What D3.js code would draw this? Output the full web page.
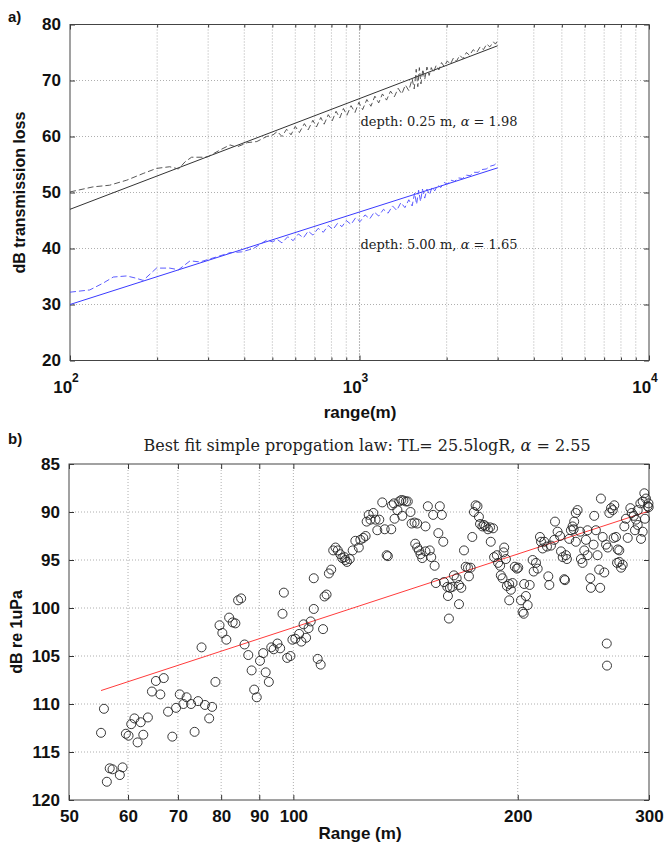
<!DOCTYPE html>
<html>
<head>
<meta charset="utf-8">
<script src="https://cdn.jsdelivr.net/npm/d3@7"></script>
<style>
  body { margin: 0; background: #fff; }
  svg { display: block; }
</style>
</head>
<body>
<svg id="chart" width="665" height="845"></svg>
<script>
// ---- panel a: transmission loss vs range ----
const rangeMajorA = [100, 1000, 10000];
const rangeMinorA = [200, 300, 400, 500, 600, 700, 800, 900, 2000, 3000, 4000, 5000, 6000, 7000, 8000, 9000];
const tlTicks = [20, 30, 40, 50, 60, 70, 80];

// straight fits (end points)
const fitShallow = [[100, 47.0], [3000, 76.2]];
const fitDeep = [[100, 30.0], [3000, 54.4]];

// measured (dashed)
const measShallow = [
  [100, 50.1], [120, 51.0], [137, 51.3], [157, 52.2], [179, 53.4], [199, 54.3], [221, 54.6], [237, 54.2],
  [250, 55.5], [263, 56.3], [289, 56.3], [300, 56.4], [330, 57.6], [357, 58.5], [376, 58.1], [410, 58.9],
  [442, 59.1], [478, 60.0], [503, 60.3], [520, 60.9], [540, 60.0], [560, 61.3], [580, 60.3], [600, 61.8],
  [620, 60.7], [645, 62.3], [665, 61.2], [690, 62.9], [710, 61.7], [735, 63.4], [755, 62.2], [780, 63.9],
  [805, 62.8], [830, 64.5], [855, 63.3], [880, 65.0], [905, 63.8], [935, 65.5], [965, 64.3], [995, 66.1],
  [1025, 64.8], [1060, 66.6], [1095, 65.4], [1130, 67.2], [1165, 66.0], [1200, 67.6], [1240, 66.5],
  [1280, 68.1], [1320, 67.1], [1360, 68.6], [1400, 67.6], [1440, 69.2], [1480, 68.2], [1520, 70.3],
  [1545, 68.5], [1570, 72.0], [1590, 68.9], [1610, 72.3], [1630, 69.4], [1655, 72.0], [1680, 70.2],
  [1710, 72.4], [1740, 70.9], [1770, 72.3], [1800, 71.4], [1840, 72.7], [1880, 71.9], [1920, 73.2],
  [1960, 72.5], [2010, 73.5], [2060, 72.9], [2110, 74.0], [2160, 73.4], [2220, 74.5], [2280, 73.9],
  [2340, 75.0], [2400, 74.5], [2470, 75.5], [2540, 75.0], [2610, 76.0], [2680, 75.5], [2750, 76.5],
  [2820, 76.0], [2900, 76.9], [2950, 76.5], [3000, 77.2]
];
const measDeep = [
  [100, 32.2], [117, 32.6], [130, 33.8], [141, 34.9], [157, 35.1], [169, 34.7], [179, 34.3], [199, 36.5],
  [221, 36.5], [237, 36.2], [260, 37.8], [281, 37.6], [321, 38.5], [357, 39.25], [392, 39.4], [430, 40.0],
  [478, 41.5], [500, 41.2], [520, 41.6], [540, 41.0], [565, 42.1], [590, 41.4], [615, 42.6], [640, 41.9],
  [665, 43.1], [690, 42.4], [720, 43.6], [750, 42.9], [780, 44.1], [810, 43.4], [840, 44.5], [870, 43.9],
  [900, 45.0], [935, 44.3], [970, 45.5], [1005, 44.8], [1045, 46.0], [1085, 45.3], [1125, 46.5],
  [1165, 45.8], [1210, 47.0], [1255, 46.3], [1300, 47.6], [1345, 46.8], [1390, 48.2], [1435, 47.3],
  [1480, 48.7], [1520, 47.6], [1550, 49.9], [1575, 47.9], [1600, 50.4], [1625, 48.4], [1650, 50.6],
  [1680, 49.0], [1710, 50.6], [1745, 49.6], [1780, 50.9], [1820, 50.3], [1860, 51.3], [1910, 50.9],
  [1960, 51.8], [2010, 51.5], [2070, 52.2], [2130, 52.0], [2200, 52.6], [2270, 52.5], [2340, 53.1],
  [2410, 53.0], [2490, 53.6], [2570, 53.6], [2650, 54.1], [2740, 54.2], [2830, 54.7], [2920, 54.9],
  [3000, 55.4]
];

// ---- panel b: received level vs range ----
const rangeTicksB = [50, 60, 70, 80, 90, 100, 200, 300];
const levelTicks = [85, 90, 95, 100, 105, 110, 115, 120];
const fitLaw = [[55.2, 108.6], [300, 89.9]];

// observations [range m, dB re 1uPa]
const obs = [
  [55.2, 113.0], [55.7, 110.5], [56.2, 118.1], [56.7, 116.7], [57.2, 116.8], [58.5, 117.4], [59.0, 116.6],
  [59.6, 113.1], [60.1, 113.3], [60.6, 112.1], [61.2, 111.5], [61.8, 114.0], [62.4, 111.9], [62.9, 113.2],
  [63.8, 111.4], [64.6, 108.7], [65.4, 107.6], [66.3, 109.0], [67.0, 107.3], [67.9, 110.8], [68.8, 113.4],
  [69.6, 110.4], [70.4, 109.0], [71.2, 110.0], [71.9, 109.3], [72.9, 110.0], [73.7, 112.9], [74.5, 109.7],
  [75.3, 104.1], [76.1, 110.1], [77.1, 111.5], [77.8, 110.3], [78.6, 107.7],
  [79.6, 101.8], [80.3, 102.6], [81.3, 103.3], [82.0, 101.0], [82.9, 101.5], [83.6, 101.6], [84.3, 99.2],
  [85.1, 99.0], [86.0, 103.8], [87.0, 104.9], [87.9, 106.5], [88.6, 108.5], [89.3, 109.3], [90.2, 105.5],
  [91.1, 104.7], [91.8, 106.7], [92.7, 107.7], [93.4, 104.1], [94.1, 104.3], [95.2, 103.7], [96.0, 104.2],
  [96.7, 100.6], [97.1, 98.4], [98.1, 105.2], [99.1, 105.0], [99.7, 103.3], [100.6, 103.2], [101.8, 102.7],
  [102.5, 103.5], [103.2, 101.7], [104.0, 103.1], [104.8, 102.1], [105.5, 101.4], [106.5, 100.1],
  [106.5, 96.9], [107.8, 105.3], [108.8, 105.9], [109.6, 102.2], [110.1, 98.8], [110.8, 98.6], [111.6, 96.4],
  [112.4, 96.0], [113.1, 94.0], [113.9, 93.7], [114.7, 94.0], [115.6, 94.4], [116.3, 94.8], [117.1, 94.7],
  [117.4, 95.0], [118.0, 95.2], [119.0, 94.9], [120.1, 94.0], [121.1, 93.0], [122.4, 93.7], [123.0, 92.9],
  [124.1, 92.7], [125.0, 92.5], [125.4, 91.0], [126.2, 90.3], [126.9, 90.8], [128.0, 90.1], [128.9, 90.8],
  [129.6, 91.9], [130.4, 90.8], [131.6, 89.0], [132.6, 91.8], [133.4, 94.5], [133.9, 94.6], [135.3, 91.8],
  [135.6, 89.3], [136.4, 89.1], [136.7, 90.7], [137.9, 89.8], [138.7, 88.9], [139.6, 88.75], [140.0, 90.4],
  [140.5, 88.8], [141.6, 88.9], [142.4, 88.9], [143.6, 90.0], [144.1, 91.2], [145.4, 91.1], [146.6, 91.2],
  [150.4, 91.5], [151.5, 89.4], [154.0, 90.3], [157.2, 89.4], [158.2, 90.3], [156.5, 92.2], [158.9, 93.1],
  [145.7, 93.3], [146.6, 93.7], [147.4, 94.0], [148.1, 94.4], [148.9, 94.8], [150.4, 94.1], [152.4, 94.0],
  [153.1, 94.7], [154.7, 95.6], [155.3, 97.4], [159.2, 97.3], [160.9, 97.8], [161.2, 98.75], [161.7, 101.1],
  [162.2, 97.9], [163.4, 97.8], [164.2, 96.6], [165.6, 96.9], [166.8, 97.6], [168.0, 97.9], [166.8, 99.6],
  [169.4, 94.0], [170.3, 95.7], [171.5, 95.8], [172.9, 95.8], [172.0, 96.7], [173.8, 92.6], [174.7, 90.0],
  [175.6, 89.3], [176.6, 89.4], [177.4, 90.5], [178.0, 91.25], [179.3, 91.5], [180.2, 91.35], [181.1, 91.5],
  [182.4, 91.8], [183.6, 91.6], [185.3, 91.7], [184.0, 93.1], [185.9, 94.7], [187.5, 94.5], [188.2, 95.3],
  [189.4, 95.6], [189.8, 96.6], [190.8, 96.9], [191.8, 93.7], [192.8, 94.9], [191.4, 94.2], [193.4, 97.7],
  [194.8, 97.5], [195.8, 98.1], [196.8, 97.4], [194.8, 99.2], [198.2, 95.7], [199.5, 95.9], [200.3, 95.8],
  [202.0, 99.2], [203.0, 100.4], [203.7, 100.6], [205.1, 98.75], [206.2, 99.7], [204.0, 97.5], [207.5, 97.6],
  [210.1, 96.2], [209.4, 95.0], [211.6, 95.3], [212.7, 95.9], [214.2, 92.6], [214.9, 93.1], [217.1, 93.1],
  [216.0, 93.8], [218.9, 93.6], [219.8, 96.7], [220.5, 97.6], [221.6, 93.5], [223.9, 92.9], [224.4, 91.0],
  [226.2, 92.05], [227.9, 92.5], [228.6, 94.1], [229.8, 94.7], [230.9, 97.0], [231.4, 97.1], [232.1, 94.5],
  [232.8, 94.9], [234.5, 92.8], [235.7, 91.9], [236.9, 91.5], [237.7, 91.8], [238.1, 91.0], [239.3, 90.1],
  [240.6, 89.8], [239.3, 93.1], [242.5, 92.05], [243.1, 94.9], [244.3, 95.3], [245.6, 94.0], [246.9, 92.9],
  [248.1, 91.9], [248.1, 94.5], [250.2, 96.9], [250.7, 97.9], [252.8, 93.4], [253.3, 90.4], [254.6, 91.9],
  [255.9, 94.5], [257.2, 96.0], [258.0, 97.9], [258.6, 88.6], [260.0, 92.6], [261.3, 96.3], [262.7, 93.4],
  [264.1, 93.7], [265.4, 90.1], [266.8, 89.6], [268.2, 89.8], [269.5, 89.3], [269.0, 92.7], [270.9, 92.6],
  [272.4, 93.9], [273.7, 94.0], [271.8, 95.3], [273.7, 95.2], [275.2, 95.8], [276.6, 95.5], [278.0, 91.5],
  [279.4, 90.7], [280.9, 92.7], [283.2, 89.6], [284.4, 90.1], [286.2, 90.4], [288.2, 90.8], [289.7, 89.8],
  [292.1, 89.1], [294.2, 88.9], [295.7, 88.05], [297.2, 88.6], [298.8, 89.4], [299.5, 89.1], [299.7, 89.5],
  [287.3, 91.9], [289.7, 91.35], [292.7, 92.8], [294.2, 92.05], [296.3, 90.7], [263.3, 103.7], [263.5, 106.0]
];

const svg = d3.select('#chart');
const SANS = '"Liberation Sans", Arial, sans-serif';
const SERIF = '"DejaVu Serif", "Liberation Serif", serif';
const GRID = '#9a9a9a';

// ---------- panel a ----------
const xA = d3.scaleLog().domain([100, 10000]).range([70, 649]);
const yA = d3.scaleLinear().domain([20, 80]).range([360.5, 24.5]);
const gA = svg.append('g');

// grid
gA.append('g').selectAll('line')
  .data(rangeMinorA.concat([1000]))
  .join('line')
    .attr('x1', d => xA(d)).attr('x2', d => xA(d))
    .attr('y1', yA(20)).attr('y2', yA(80))
    .attr('stroke', d => d === 1000 ? '#777' : GRID)
    .attr('stroke-width', d => d === 1000 ? 1.1 : 0.8)
    .attr('stroke-dasharray', '1,2');
gA.append('g').selectAll('line')
  .data(tlTicks.slice(1, -1))
  .join('line')
    .attr('x1', xA(100)).attr('x2', xA(10000))
    .attr('y1', d => yA(d)).attr('y2', d => yA(d))
    .attr('stroke', GRID).attr('stroke-width', 0.8)
    .attr('stroke-dasharray', '1,2');

// ticks on all sides
function ticks(g, axis) {
  g.call(axis).call(s => s.select('.domain').remove())
   .call(s => s.selectAll('line').attr('stroke', '#333'));
}
ticks(gA.append('g').attr('transform', `translate(${xA(100)},0)`),
  d3.axisLeft(yA).tickValues(tlTicks).tickSize(-5).tickPadding(9));
ticks(gA.append('g').attr('transform', `translate(${xA(10000)},0)`),
  d3.axisRight(yA).tickValues(tlTicks).tickSize(-5).tickFormat(''));
ticks(gA.append('g').attr('transform', `translate(0,${yA(20)})`),
  d3.axisBottom(xA).tickValues(rangeMajorA).tickSize(-5).tickFormat(''));
ticks(gA.append('g').attr('transform', `translate(0,${yA(20)})`),
  d3.axisBottom(xA).tickValues(rangeMinorA).tickSize(-3).tickFormat(''));
ticks(gA.append('g').attr('transform', `translate(0,${yA(80)})`),
  d3.axisTop(xA).tickValues(rangeMajorA).tickSize(-5).tickFormat(''));
ticks(gA.append('g').attr('transform', `translate(0,${yA(80)})`),
  d3.axisTop(xA).tickValues(rangeMinorA).tickSize(-3).tickFormat(''));

gA.selectAll('.tick text')
  .attr('font-family', SANS).attr('font-weight', 'bold')
  .attr('font-size', 17).attr('fill', '#111');

// 10^n labels
const expLab = gA.append('g').selectAll('text')
  .data(rangeMajorA)
  .join('text')
    .attr('x', d => xA(d) - 4)
    .attr('y', 393)
    .attr('text-anchor', 'middle')
    .attr('font-family', SANS).attr('font-weight', 'bold')
    .attr('font-size', 17).attr('fill', '#111');
expLab.append('tspan').text('10');
expLab.append('tspan').attr('dy', -11).attr('font-size', 12)
  .text(d => Math.round(Math.log10(d)));

// frame
gA.append('rect')
  .attr('x', xA(100)).attr('y', yA(80))
  .attr('width', xA(10000) - xA(100)).attr('height', yA(20) - yA(80))
  .attr('fill', 'none').attr('stroke', '#444').attr('stroke-width', 1);

// lines
const lineA = d3.line().x(d => xA(d[0])).y(d => yA(d[1]));
gA.append('path').datum(fitShallow).attr('d', lineA)
  .attr('fill', 'none').attr('stroke', '#333').attr('stroke-width', 1);
gA.append('path').datum(measShallow).attr('d', lineA)
  .attr('fill', 'none').attr('stroke', '#444').attr('stroke-width', 0.9)
  .attr('stroke-dasharray', '6,3');
gA.append('path').datum(fitDeep).attr('d', lineA)
  .attr('fill', 'none').attr('stroke', '#3a3aff').attr('stroke-width', 1);
gA.append('path').datum(measDeep).attr('d', lineA)
  .attr('fill', 'none').attr('stroke', '#4a4aff').attr('stroke-width', 0.9)
  .attr('stroke-dasharray', '6,3');

// annotations
function annot(g, x, y, depth, alpha) {
  const t = g.append('text').attr('x', x).attr('y', y)
    .attr('font-family', SERIF).attr('font-size', 13).attr('fill', '#222');
  t.append('tspan').text(`depth: ${depth} m, `);
  t.append('tspan').attr('font-style', 'italic').text('α');
  t.append('tspan').text(` = ${alpha}`);
}
annot(gA, xA(1000) + 1, yA(61.8), '0.25', '1.98');
annot(gA, xA(1000) + 1, yA(40), '5.00', '1.65');

// axis titles
gA.append('text').attr('x', 360).attr('y', 418).attr('text-anchor', 'middle')
  .attr('font-family', SANS).attr('font-weight', 'bold').attr('font-size', 17)
  .attr('fill', '#111').text('range(m)');
gA.append('text').attr('transform', `translate(25,${(yA(20) + yA(80)) / 2}) rotate(-90)`)
  .attr('text-anchor', 'middle')
  .attr('font-family', SANS).attr('font-weight', 'bold').attr('font-size', 16)
  .attr('fill', '#111').text('dB transmission loss');
svg.append('text').attr('x', 8).attr('y', 22)
  .attr('font-family', SANS).attr('font-weight', 'bold').attr('font-size', 15)
  .attr('fill', '#111').text('a)');

// ---------- panel b ----------
const xB = d3.scaleLog().domain([50, 300]).range([69, 649]);
const yB = d3.scaleLinear().domain([85, 120]).range([464, 800]);
const gB = svg.append('g');

gB.append('g').selectAll('line')
  .data(rangeTicksB.slice(1, -1))
  .join('line')
    .attr('x1', d => xB(d)).attr('x2', d => xB(d))
    .attr('y1', yB(85)).attr('y2', yB(120))
    .attr('stroke', GRID).attr('stroke-width', 0.8)
    .attr('stroke-dasharray', '1,2');
gB.append('g').selectAll('line')
  .data(levelTicks.slice(1, -1))
  .join('line')
    .attr('x1', xB(50)).attr('x2', xB(300))
    .attr('y1', d => yB(d)).attr('y2', d => yB(d))
    .attr('stroke', GRID).attr('stroke-width', 0.8)
    .attr('stroke-dasharray', '1,2');

ticks(gB.append('g').attr('transform', `translate(${xB(50)},0)`),
  d3.axisLeft(yB).tickValues(levelTicks).tickSize(-5).tickPadding(9));
ticks(gB.append('g').attr('transform', `translate(${xB(300)},0)`),
  d3.axisRight(yB).tickValues(levelTicks).tickSize(-5).tickFormat(''));
ticks(gB.append('g').attr('transform', `translate(0,${yB(120)})`),
  d3.axisBottom(xB).tickValues(rangeTicksB).tickSize(-5).tickPadding(10).tickFormat(d3.format('d')));
ticks(gB.append('g').attr('transform', `translate(0,${yB(85)})`),
  d3.axisTop(xB).tickValues(rangeTicksB).tickSize(-5).tickFormat(''));

gB.selectAll('.tick text')
  .attr('font-family', SANS).attr('font-weight', 'bold')
  .attr('font-size', 17).attr('fill', '#111');

gB.append('rect')
  .attr('x', xB(50)).attr('y', yB(85))
  .attr('width', xB(300) - xB(50)).attr('height', yB(120) - yB(85))
  .attr('fill', 'none').attr('stroke', '#444').attr('stroke-width', 1);

// fit line
gB.append('path').datum(fitLaw)
  .attr('d', d3.line().x(d => xB(d[0])).y(d => yB(d[1])))
  .attr('fill', 'none').attr('stroke', '#ff3b3b').attr('stroke-width', 1);

// circles
gB.append('g').selectAll('circle')
  .data(obs)
  .join('circle')
    .attr('cx', d => xB(d[0]))
    .attr('cy', d => yB(d[1]))
    .attr('r', 4.5)
    .attr('fill', 'none')
    .attr('stroke', '#222')
    .attr('stroke-width', 0.9);

// title
const tb = gB.append('text').attr('x', 367).attr('y', 451).attr('text-anchor', 'middle')
  .attr('font-family', SERIF).attr('font-size', 16).attr('fill', '#222');
tb.append('tspan').text('Best fit simple propgation law: TL= 25.5logR, ');
tb.append('tspan').attr('font-style', 'italic').text('α');
tb.append('tspan').text(' = 2.55');

gB.append('text').attr('x', 360).attr('y', 839).attr('text-anchor', 'middle')
  .attr('font-family', SANS).attr('font-weight', 'bold').attr('font-size', 17)
  .attr('fill', '#111').text('Range (m)');
gB.append('text').attr('transform', `translate(22,${(yB(85) + yB(120)) / 2}) rotate(-90)`)
  .attr('text-anchor', 'middle')
  .attr('font-family', SANS).attr('font-weight', 'bold').attr('font-size', 16)
  .attr('fill', '#111').text('dB re 1uPa');
svg.append('text').attr('x', 8).attr('y', 444)
  .attr('font-family', SANS).attr('font-weight', 'bold').attr('font-size', 15)
  .attr('fill', '#111').text('b)');
</script>
</body>
</html>
